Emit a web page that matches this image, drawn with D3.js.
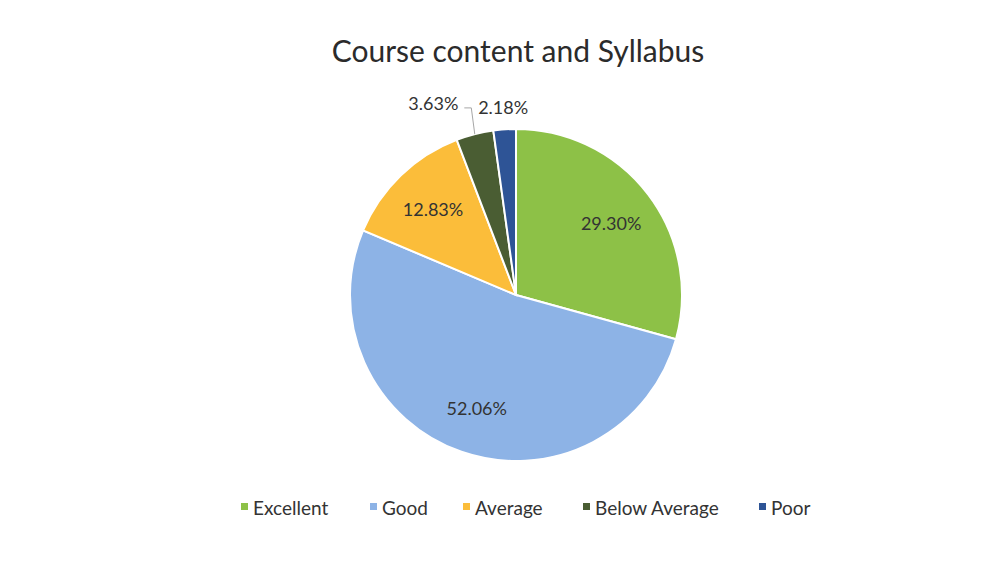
<!DOCTYPE html>
<html>
<head>
<meta charset="utf-8">
<script src="https://cdn.jsdelivr.net/npm/d3@7"></script>
<style>
  body { margin: 0; background: #fff; }
  text { font-family: Lato, "Open Sans", sans-serif; }
</style>
</head>
<body>
<div id="chart"></div>
<script>
const categories = ['Excellent', 'Good', 'Average', 'Below Average', 'Poor'];
const values = [29.30, 52.06, 12.83, 3.63, 2.18];
const colors = ['#8dc147', '#8db3e6', '#fbbd3a', '#4a5d33', '#2e5496'];
const title = 'Course content and Syllabus';

const width = 1008;
const height = 571;
const cx = 516, cy = 295, radius = 166;

const svg = d3.select('#chart').append('svg')
    .attr('width', width)
    .attr('height', height);

svg.append('text')
    .attr('x', 518)
    .attr('y', 62)
    .attr('text-anchor', 'middle')
    .attr('font-size', 30)
    .attr('fill', '#2b2b2b')
    .text(title);

const data = categories.map((c, i) => ({ name: c, value: values[i], color: colors[i] }));

const pie = d3.pie().value(d => d.value).sort(null);
const arcs = pie(data);

const arc = d3.arc().innerRadius(0).outerRadius(radius);
const labelArc = d3.arc().innerRadius(radius * 0.72).outerRadius(radius * 0.72);
const outerArc = d3.arc().innerRadius(radius + 22).outerRadius(radius + 22);

const g = svg.append('g').attr('transform', `translate(${cx},${cy})`);

g.selectAll('path')
    .data(arcs)
    .enter().append('path')
    .attr('d', arc)
    .attr('fill', d => d.data.color)
    .attr('stroke', '#fff')
    .attr('stroke-width', 2);

// labels inside for big slices, outside for small ones
arcs.forEach((d, i) => {
    const pct = d.data.value.toFixed(2) + '%';
    if (d.data.value > 10) {
        const [x, y] = labelArc.centroid(d);
        g.append('text')
            .attr('x', x).attr('y', y)
            .attr('text-anchor', 'middle')
            .attr('dominant-baseline', 'central')
            .attr('font-size', 18)
            .attr('fill', '#333')
            .text(pct);
    } else {
        let [x, y] = outerArc.centroid(d);
        if (d.data.name === 'Below Average') {
            // pushed left to clear the Poor label, with a leader line
            const edge = d3.arc().innerRadius(radius).outerRadius(radius).centroid(d);
            x -= 36; y -= 10;
            g.append('polyline')
                .attr('points', [[x + 31, y + 5], [x + 38, y + 5], [edge[0], edge[1]]].map(p => p.join(',')).join(' '))
                .attr('fill', 'none')
                .attr('stroke', '#a6a6a6')
                .attr('stroke-width', 1);
        }
        g.append('text')
            .attr('x', x).attr('y', y)
            .attr('text-anchor', 'middle')
            .attr('dominant-baseline', 'central')
            .attr('font-size', 18)
            .attr('fill', '#333')
            .text(pct);
    }
});

// legend
const legendX = [241, 370, 463, 583, 759];
const legend = svg.append('g');
data.forEach((d, i) => {
    legend.append('rect')
        .attr('x', legendX[i]).attr('y', 503)
        .attr('width', 7).attr('height', 7)
        .attr('fill', d.color);
    legend.append('text')
        .attr('x', legendX[i] + 12).attr('y', 507)
        .attr('dominant-baseline', 'central')
        .attr('font-size', 19)
        .attr('fill', '#333')
        .text(d.name);
});
</script>
</body>
</html>
